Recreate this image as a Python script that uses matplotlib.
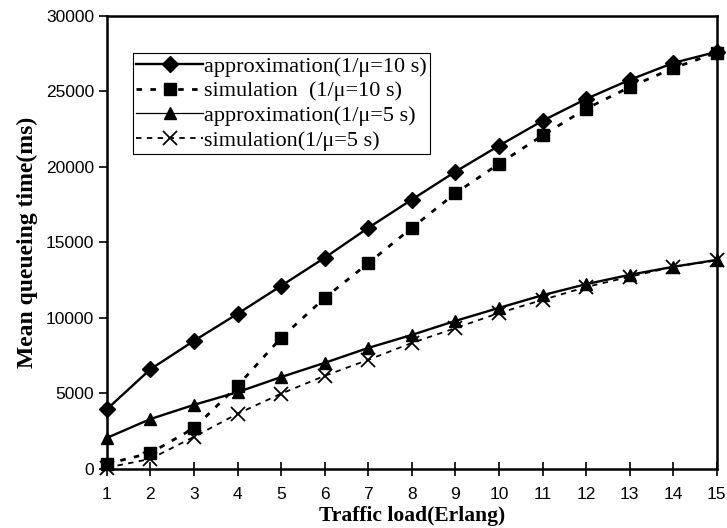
import numpy as np
import matplotlib
matplotlib.use("Agg")
import matplotlib.pyplot as plt

load = list(range(1, 16))
approx10 = [3950, 6600, 8480, 10270, 12120, 13980, 15960, 17830, 19680, 21400, 23050, 24500, 25760, 26880, 27620]
sim10 = [330, 1050, 2700, 5500, 8680, 11320, 13620, 15960, 18250, 20200, 22080, 23850, 25280, 26540, 27560]
approx5 = [2050, 3300, 4240, 5080, 6080, 7020, 8010, 8870, 9800, 10660, 11500, 12230, 12850, 13380, 13840]
sim5 = [80, 660, 2120, 3650, 4980, 6160, 7220, 8340, 9320, 10320, 11190, 12040, 12720, 13380, 13800]

labels = ["approximation(1/\u03bc=10 s)", "simulation  (1/\u03bc=10 s)",
          "approximation(1/\u03bc=5 s)", "simulation(1/\u03bc=5 s)"]

fig = plt.figure(figsize=(7.27, 5.28), dpi=100)
ax = fig.add_axes([0.147, 0.112, 0.839, 0.858])

ax.plot(load, approx10, color="black", lw=1.7, marker="D", ms=8, clip_on=False, label=labels[0])
ax.plot(load, sim10, color="black", lw=2.0, ls=(0, (2, 3)), marker="s", ms=9, clip_on=False, label=labels[1])
ax.plot(load, approx5, color="black", lw=1.7, marker="^", ms=9, clip_on=False, label=labels[2])
ax.plot(load, sim5, color="black", lw=1.3, ls=(0, (3, 3)), marker="x", ms=10, mew=1.3, clip_on=False, label=labels[3])

ax.set_xlim(1, 15)
ax.set_ylim(0, 30000)
ax.set_xticks(load)
ax.set_yticks(np.arange(0, 30001, 5000))
for s in ax.spines.values():
    s.set_linewidth(1.8)
ax.tick_params(axis="x", direction="inout", length=10, width=1.2, labelsize=12.5, pad=8)
ax.tick_params(axis="y", direction="out", length=6, width=1.2, labelsize=12.5, pad=3)
for t in ax.get_xticklabels() + ax.get_yticklabels():
    t.set_fontfamily("Liberation Sans")

ax.set_xlabel("Traffic load(Erlang)", fontsize=15.5, fontweight="bold", family="Liberation Serif", labelpad=3)
ax.set_ylabel("Mean queueing time(ms)", fontsize=17, fontweight="bold", family="Liberation Serif", labelpad=6)

leg = ax.legend(loc="upper left", bbox_to_anchor=(0.043, 0.918), prop={"family": "Liberation Serif", "size": 16},
                fancybox=False, framealpha=1, edgecolor="black", handlelength=3.0, handletextpad=0.05,
                borderpad=0.15, labelspacing=0.18, borderaxespad=0)
leg.get_frame().set_linewidth(0.8)
# thin line for the 5 s approximation handle, as in the original legend
leg.get_lines()[2].set_linewidth(0.9)

fig.savefig("out.png", dpi=100)
